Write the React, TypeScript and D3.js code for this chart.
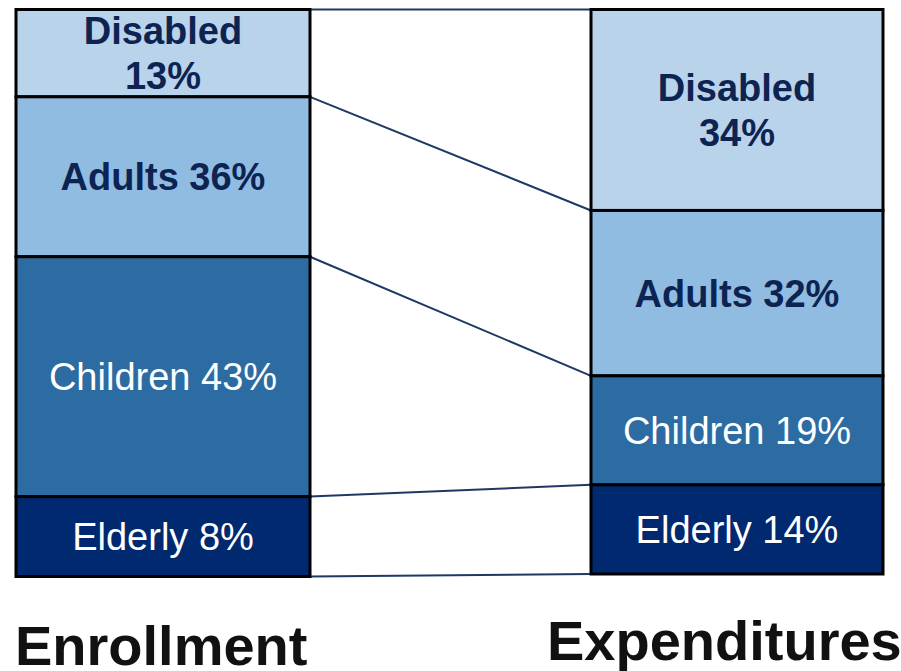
import React from "react";
import * as d3 from "d3";

const categories = ["Disabled", "Adults", "Children", "Elderly"];
const enrollmentPct = [13, 36, 43, 8];
const expenditurePct = [34, 32, 19, 14];
// segment sizes as drawn in the picture (share of bar height, %)
const enrollmentDrawn = [15.4, 28.2, 42.3, 14.1];
const expenditureDrawn = [35.6, 29.3, 19.3, 15.8];
const barTitles = ["Enrollment", "Expenditures"];

const fills = ["#b9d3ea", "#91bce1", "#2d6ca2", "#00296f"];
const textColors = ["#0d2352", "#0d2352", "#ffffff", "#ffffff"];
const textWeights = ["bold", "bold", "normal", "normal"];
const twoLine = [true, false, false, false];

const W = 901;
const H = 671;

export default function App() {
  const barX = [16, 591];
  const barW = [294, 292];
  const yLeft = d3.scaleLinear().domain([0, 100]).range([576.5, 9.5]);
  const yRight = d3.scaleLinear().domain([0, 100]).range([574, 9.5]);
  const scales = [yLeft, yRight];

  const bars = [
    { title: barTitles[0], pct: enrollmentPct, drawn: enrollmentDrawn },
    { title: barTitles[1], pct: expenditurePct, drawn: expenditureDrawn },
  ];

  const stacked = bars.map((b) => {
    let acc = 100;
    return b.drawn.map((v, i) => {
      const top = acc;
      acc -= v;
      return { cat: categories[i], i, top, bottom: Math.max(acc, 0), pct: b.pct[i] };
    });
  });

  const fs = 38;

  return (
    <svg
      width={W}
      height={H}
      style={{ position: "absolute", left: 0, top: 0, background: "#fff" }}
      fontFamily="'Liberation Sans', Arial, sans-serif"
    >
      {[0, 1, 2, 3, 4].map((k) => {
        const yl = k === 0 ? yLeft(100) : yLeft(stacked[0][k - 1].bottom);
        const yr = k === 0 ? yRight(100) : yRight(stacked[1][k - 1].bottom);
        return (
          <line
            key={k}
            x1={barX[0] + barW[0]}
            y1={yl}
            x2={barX[1]}
            y2={yr}
            stroke="#1f3864"
            strokeWidth={2}
          />
        );
      })}
      {stacked.map((segs, b) => (
        <g key={b}>
          {segs.map((s) => {
            const y = scales[b];
            const y0 = y(s.top);
            const y1 = y(s.bottom);
            const cx = barX[b] + barW[b] / 2;
            const cy = (y0 + y1) / 2;
            const off = 0.36 * fs;
            return (
              <g key={s.cat}>
                <rect
                  x={barX[b]}
                  y={y0}
                  width={barW[b]}
                  height={y1 - y0}
                  fill={fills[s.i]}
                  stroke="#000"
                  strokeWidth={3}
                />
                {twoLine[s.i] ? (
                  <text
                    textAnchor="middle"
                    fill={textColors[s.i]}
                    fontWeight={textWeights[s.i]}
                    fontSize={fs}
                  >
                    <tspan x={cx} y={cy - 22.5 + off}>
                      {s.cat}
                    </tspan>
                    <tspan x={cx} y={cy + 22.5 + off}>
                      {s.pct}%
                    </tspan>
                  </text>
                ) : (
                  <text
                    x={cx}
                    y={cy + off}
                    textAnchor="middle"
                    fill={textColors[s.i]}
                    fontWeight={textWeights[s.i]}
                    fontSize={fs}
                  >
                    {`${s.cat} ${s.pct}%`}
                  </text>
                )}
              </g>
            );
          })}
        </g>
      ))}
      <text x={15} y={665} fontSize={56} fontWeight="bold" fill="#111">
        {barTitles[0]}
      </text>
      <text x={547} y={660} fontSize={56} fontWeight="bold" fill="#111">
        {barTitles[1]}
      </text>
    </svg>
  );
}
